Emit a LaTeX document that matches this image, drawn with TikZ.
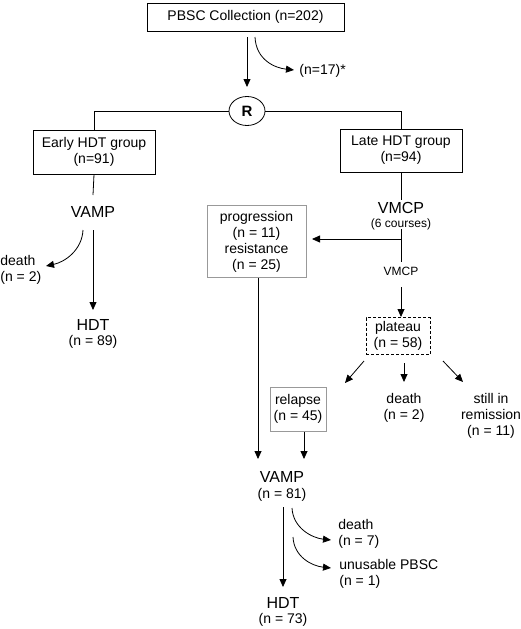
\documentclass[tikz,border=0pt]{standalone}
\usepackage{fontspec}
\setmainfont{Liberation Sans}
\usetikzlibrary{arrows.meta,shapes.geometric}
\begin{document}
\begin{tikzpicture}[x=1pt,y=-1pt,
 line width=0.8pt,
 arr/.style={-{Triangle[length=8pt,width=7pt]}},
 box/.style={draw,inner sep=0pt,align=center,font=\fontsize{14}{16}\selectfont},
 lbl/.style={inner sep=0pt,align=center,font=\fontsize{14}{16}\selectfont},
 big/.style={inner sep=0pt,align=center,font=\fontsize{16}{17}\selectfont},
 small/.style={inner sep=0pt,align=center,font=\fontsize{12}{14}\selectfont},
 graybox/.style={box,draw=black!40},
 dashbox/.style={box,dash pattern=on 3pt off 2pt},
]
\useasboundingbox (0,0) rectangle (520,629);
% boxes
\node[box,minimum width=197pt,minimum height=28pt] (pbsc) at (245.5,17) {PBSC Collection (n=202)};
\node[draw,ellipse,inner sep=0pt,minimum width=36pt,minimum height=29pt,font=\fontsize{15}{16}\selectfont\bfseries] (R) at (247,111) {R};
\node[box,minimum width=122pt,minimum height=44pt] (early) at (94,152) {Early HDT group\\(n=91)};
\node[box,minimum width=122pt,minimum height=43pt] (late) at (401,150.5) {Late HDT group\\(n=94)};
\node[graybox,minimum width=99pt,minimum height=72pt] (prog) at (256.5,241.5) {progression\\(n = 11)\\resistance\\(n = 25)};
\node[dashbox,minimum width=64pt,minimum height=37pt] (plat) at (398,336) {plateau\\(n = 58)};
\node[graybox,minimum width=56pt,minimum height=44pt] (rel) at (298,409) {relapse\\(n = 45)};
% labels
\node[lbl,anchor=west] (n17) at (299,71) {(n=17)*};
\node[big] (vamp1) at (93,212) {VAMP};
\node[lbl,anchor=west,align=left] (death1) at (0,270) {death\\(n = 2)};
\node[big] (hdt1) at (93,325) {HDT};
\node[lbl] (n89) at (93,342) {(n = 89)};
\node[big] (vmcp) at (401,208) {VMCP};
\node[small] (courses) at (401,224) {(6 courses)};
\node[small] (vmcp2) at (401,271) {VMCP};
\node[lbl] (death2) at (404,408) {death\\(n = 2)};
\node[lbl] (still) at (491,416) {still in\\remission\\(n = 11)};
\node[big] (vamp2) at (282,477) {VAMP};
\node[lbl] (n81) at (282,495) {(n = 81)};
\node[lbl,anchor=west,align=left] (death3) at (338,534) {death\\(n = 7)};
\node[lbl,anchor=west,align=left] (unus) at (339,574) {unusable PBSC\\(n = 1)};
\node[big] (hdt2) at (283,603) {HDT};
\node[lbl] (n73) at (283,620) {(n = 73)};
% coordinates
\coordinate (a1) at (247,37); \coordinate (a2) at (247,87);
\coordinate (b1) at (255,37); \coordinate (b2) at (294,70);
\coordinate (c1) at (93,195);
\coordinate (d1) at (83,230); \coordinate (d2) at (46,266);
\coordinate (e1) at (93,230); \coordinate (e2) at (93,310);
\coordinate (f1) at (401,200);
\coordinate (g1) at (401,229); \coordinate (g2) at (401,239); \coordinate (g3) at (401,262); \coordinate (g4) at (312,239);
\coordinate (h1) at (401,287); \coordinate (h2) at (401,317);
\coordinate (i1) at (364,361); \coordinate (i2) at (345,383);
\coordinate (j1) at (404,363); \coordinate (j2) at (404,382);
\coordinate (k1) at (443,361); \coordinate (k2) at (463,382);
\coordinate (l1) at (258,278); \coordinate (l2) at (258,459);
\coordinate (m1) at (304,432); \coordinate (m2) at (304,459);
\coordinate (o1) at (283,507); \coordinate (o2) at (283,587);
\coordinate (p1) at (292,508); \coordinate (p2) at (331,540);
\coordinate (q1) at (293,537); \coordinate (q2) at (331,568);
% connectors
\draw[arr] (a1) -- (a2);
\draw[arr] (b1) .. controls (256,60) and (275,68) .. (b2);
\draw (R.west) -| (early.north);
\draw (R.east) -| (late.north);
\draw (early.south) -- (c1);
\draw[arr] (d1) .. controls (82,250) and (65,262) .. (d2);
\draw[arr] (e1) -- (e2);
\draw (late.south) -- (f1);
\draw (g1) -- (g3);
\draw[arr] (g2) -- (g4);
\draw[arr] (h1) -- (h2);
\draw[arr] (i1) -- (i2);
\draw[arr] (j1) -- (j2);
\draw[arr] (k1) -- (k2);
\draw[arr] (l1) -- (l2);
\draw[arr] (m1) -- (m2);
\draw[arr] (o1) -- (o2);
\draw[arr] (p1) .. controls (293,528) and (312,538) .. (p2);
\draw[arr] (q1) .. controls (294,557) and (312,566) .. (q2);
\end{tikzpicture}
\end{document}
